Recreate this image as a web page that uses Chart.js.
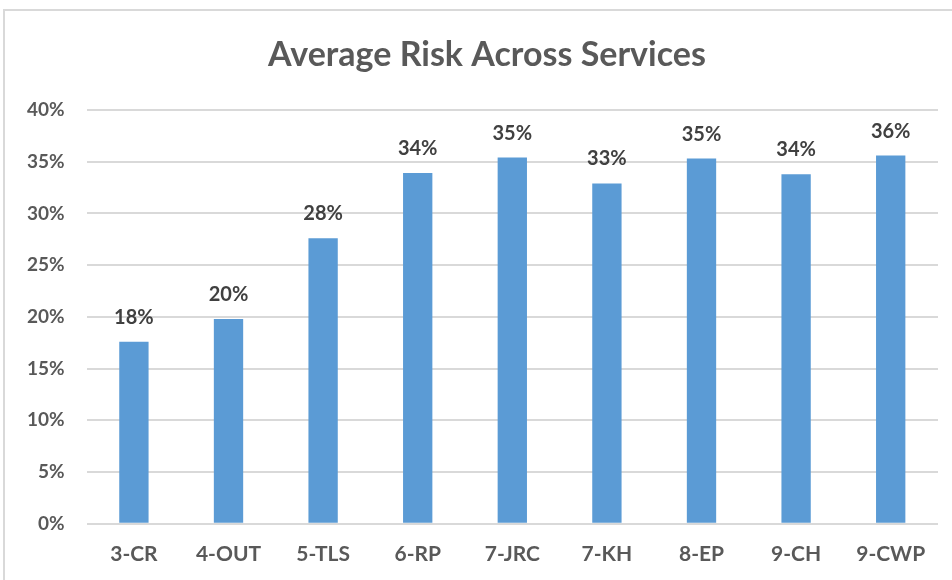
<!DOCTYPE html>
<html lang="en">
<head>
    <meta charset="UTF-8">
    <title>Average Risk Across Services</title>
    <script src="https://cdn.jsdelivr.net/npm/chart.js"></script>
    <style>
        html, body { margin: 0; padding: 0; background: #fff; overflow: hidden; }
        body { width: 952px; height: 580px; position: relative; }
        .frame {
            position: absolute; left: 3px; top: 9px;
            width: 964px; height: 600px;
            border: 2px solid #d9d9d9;
        }
    </style>
</head>
<body>
<div class="frame">
    <canvas id="riskChart" width="964" height="600"></canvas>
</div>

<script>
    // Values (percent)
    const services = ['3-CR', '4-OUT', '5-TLS', '6-RP', '7-JRC', '7-KH', '8-EP', '9-CH', '9-CWP'];
    const avgRisk = [17.6, 19.8, 27.6, 33.9, 35.4, 32.9, 35.3, 33.8, 35.6];
    const yTicks = [0, 5, 10, 15, 20, 25, 30, 35, 40];
    const chartTitle = 'Average Risk Across Services';

    const textGrey = '#595959';
    const font = 'Lato, "Open Sans", sans-serif';

    // title centred on the whole frame, like the original
    const frameTitle = {
        id: 'frameTitle',
        afterDraw(chart) {
            const ctx = chart.ctx;
            ctx.save();
            ctx.font = 'bold 34px ' + font;
            ctx.fillStyle = textGrey;
            ctx.textAlign = 'center';
            ctx.textBaseline = 'middle';
            ctx.fillText(chartTitle, chart.width / 2, 44);
            ctx.restore();
        }
    };

    // draws the bold percentage labels above each bar
    const valueLabels = {
        id: 'valueLabels',
        afterDatasetsDraw(chart) {
            const ctx = chart.ctx;
            const meta = chart.getDatasetMeta(0);
            ctx.save();
            ctx.font = 'bold 20px ' + font;
            ctx.fillStyle = '#404040';
            ctx.textAlign = 'center';
            ctx.textBaseline = 'alphabetic';
            meta.data.forEach((bar, i) => {
                ctx.fillText(Math.round(avgRisk[i]) + '%', bar.x, bar.y - 18);
            });
            ctx.restore();
        }
    };

    new Chart(document.getElementById('riskChart'), {
        type: 'bar',
        data: {
            labels: services,
            datasets: [{
                data: avgRisk,
                backgroundColor: '#5b9bd5',
                borderWidth: 0,
                categoryPercentage: 1,
                barPercentage: 0.31
            }]
        },
        options: {
            responsive: false,
            animation: false,
            layout: { padding: { left: 0, right: 31, top: 99, bottom: 34 } },
            plugins: {
                legend: { display: false },
                tooltip: { enabled: false },
                title: { display: false }
            },
            scales: {
                x: {
                    grid: { display: false },
                    border: { display: false },
                    ticks: {
                        color: textGrey,
                        font: { family: font, size: 21, weight: 'bold' },
                        padding: 10
                    }
                },
                y: {
                    min: 0,
                    max: 40,
                    afterBuildTicks(axis) {
                        axis.ticks = yTicks.map(v => ({ value: v }));
                    },
                    grid: { color: '#d9d9d9', lineWidth: 2, drawTicks: false },
                    border: { display: false },
                    ticks: {
                        color: textGrey,
                        font: { family: font, size: 19, weight: 'bold' },
                        padding: 22,
                        callback: v => v + '%'
                    }
                }
            }
        },
        plugins: [valueLabels, frameTitle]
    });
</script>
</body>
</html>
